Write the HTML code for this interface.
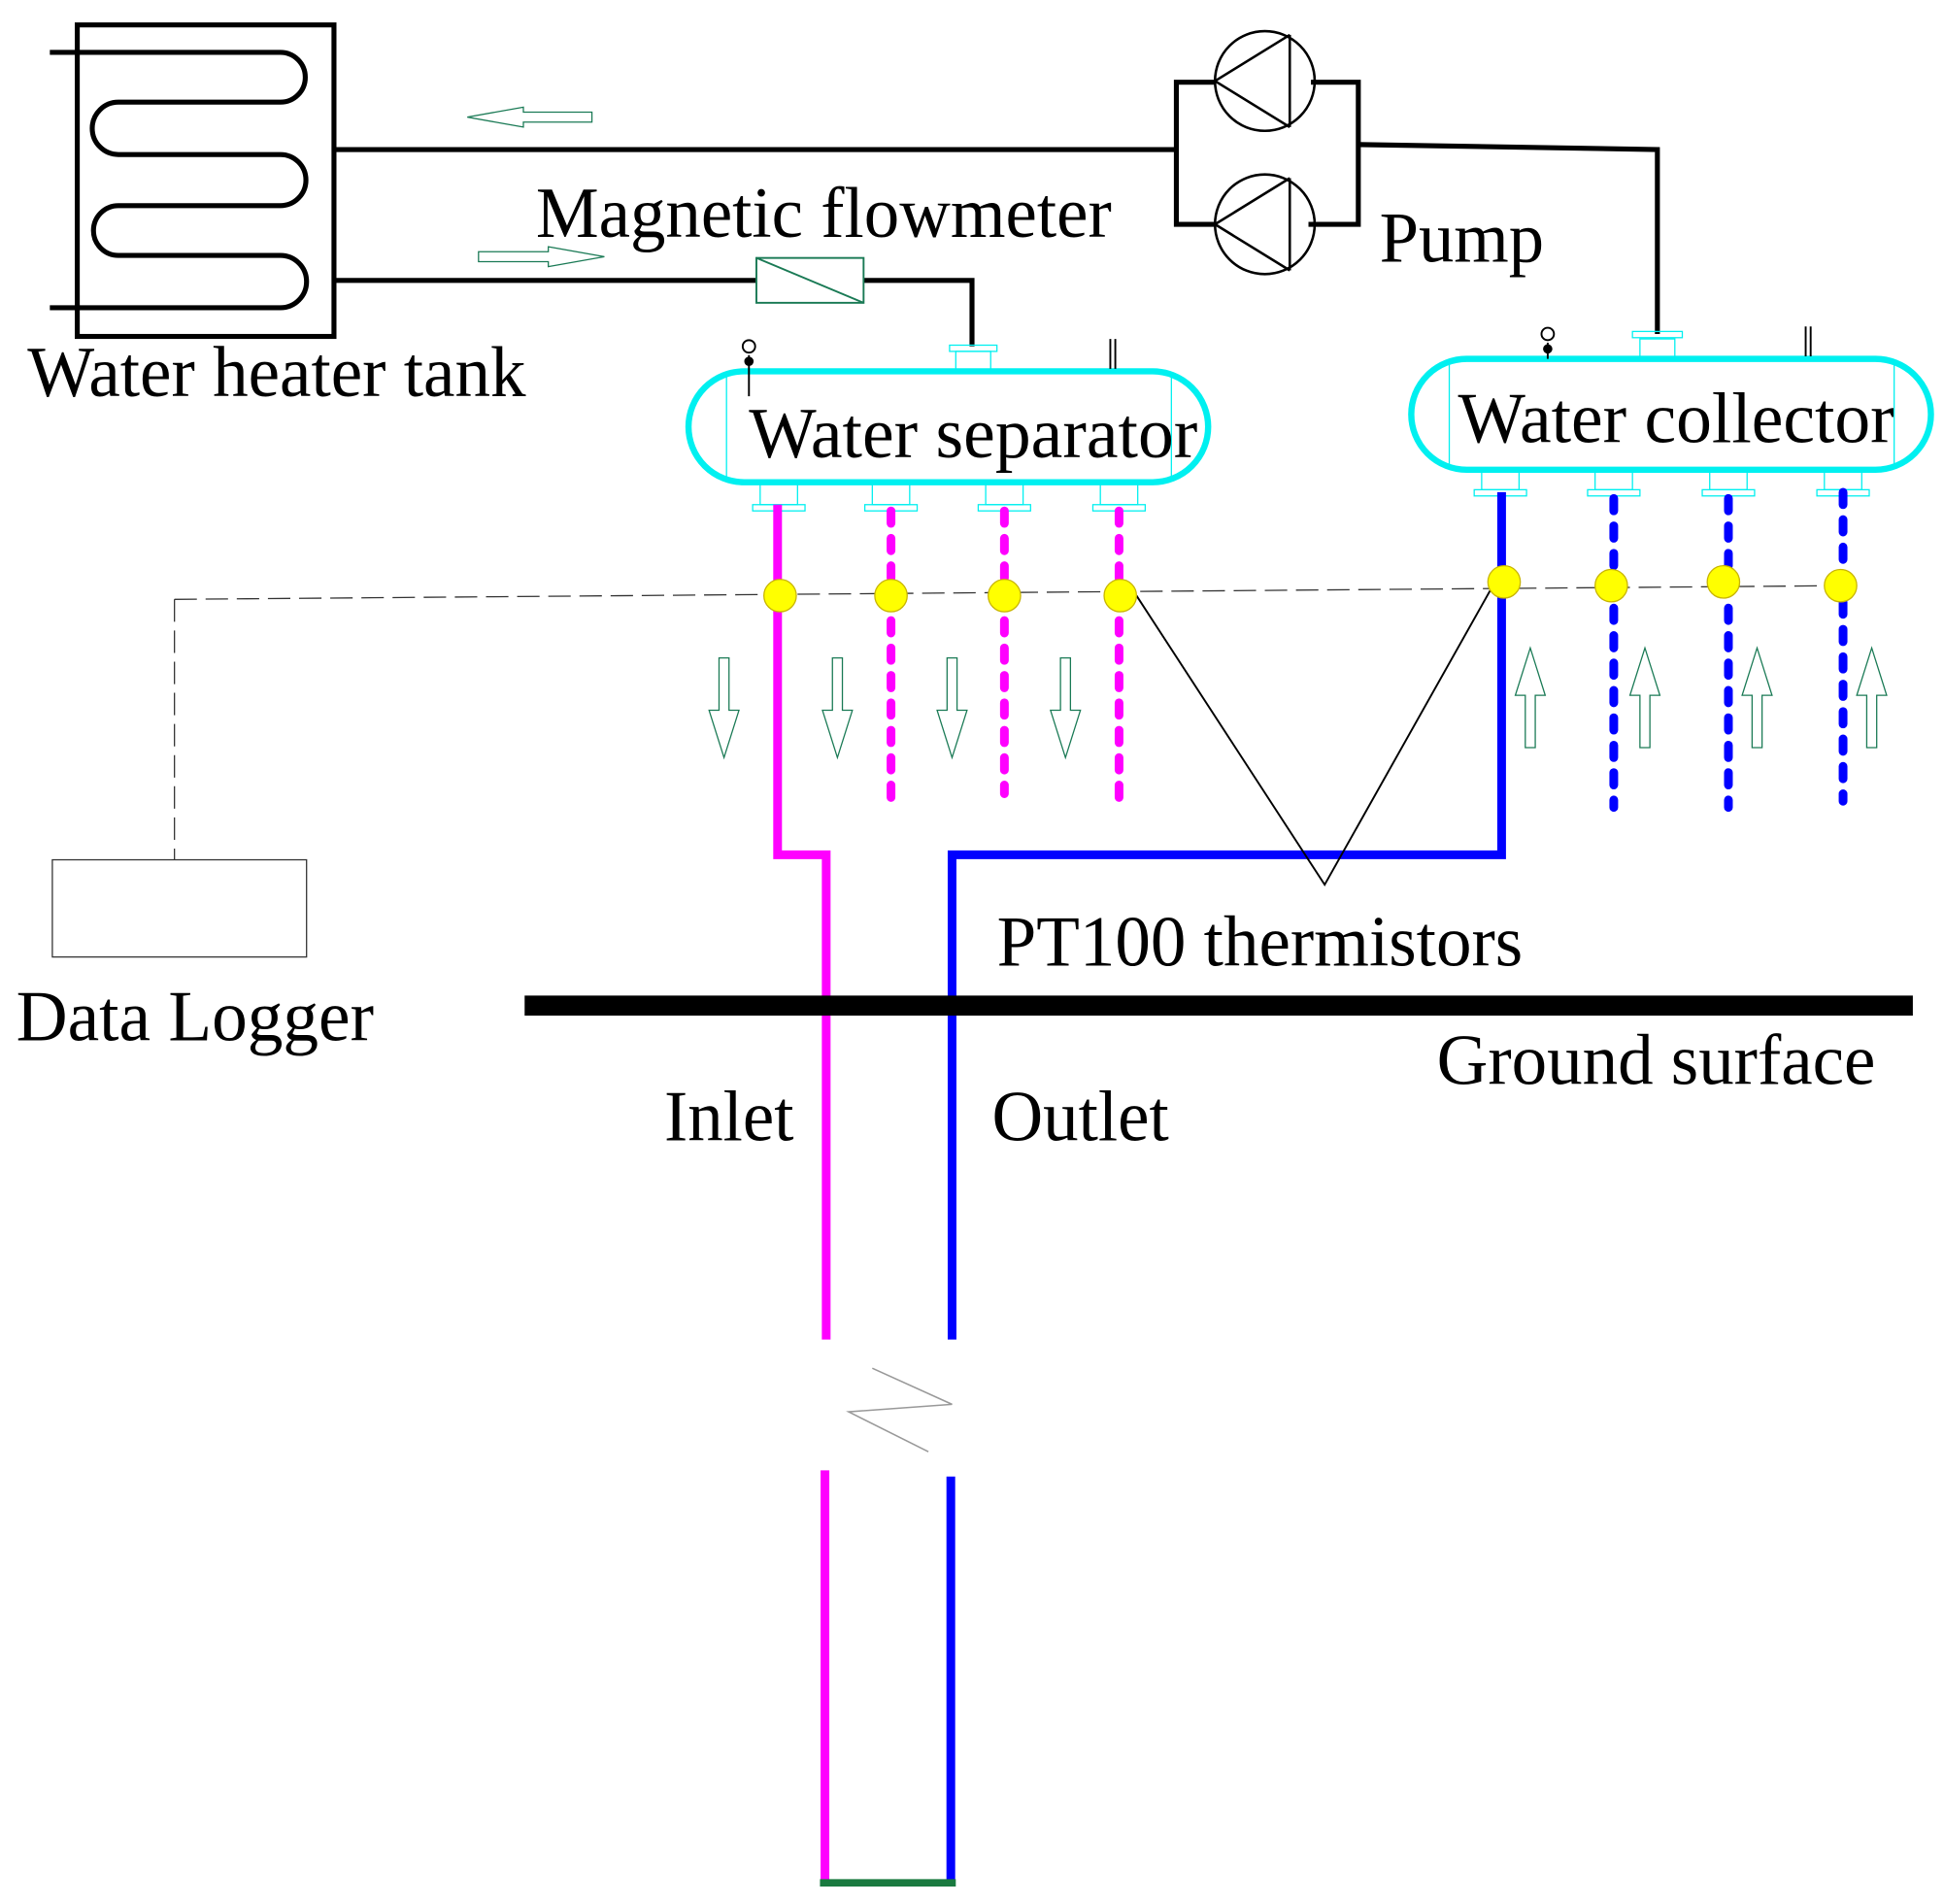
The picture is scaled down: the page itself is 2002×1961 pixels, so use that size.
<!DOCTYPE html>
<html><head><meta charset="utf-8"><style>
html,body{margin:0;padding:0;background:#fff;}
svg{display:block;}
text{font-family:"Liberation Serif","Times New Roman",serif;fill:#000;}
</style></head><body>
<svg width="2002" height="1961" viewBox="0 0 1560 1528" preserveAspectRatio="none" xmlns="http://www.w3.org/2000/svg">
<rect x="62" y="20" width="206" height="250" fill="none" stroke="#000" stroke-width="4"/>
<path d="M40 42 H225 A20 20 0 0 1 225 82 H95 A20 20 0 0 0 95 124 H225 A20.5 20.5 0 0 1 225 165 H95 A20 20 0 0 0 95 205 H225 A21 21 0 0 1 225 247 H40" fill="none" stroke="#000" stroke-width="4"/>
<path d="M268 120 H944" stroke="#000" stroke-width="4" fill="none"/>
<path d="M975 66 H944 V180 H975" stroke="#000" stroke-width="4" fill="none"/>
<path d="M1052 66 H1090 V180 H1050" stroke="#000" stroke-width="4" fill="none"/>
<path d="M1090 116 L1330 120 V268" stroke="#000" stroke-width="4" fill="none"/>
<circle cx="1015" cy="65" r="40" fill="none" stroke="#000" stroke-width="2"/>
<circle cx="1015" cy="180" r="40" fill="none" stroke="#000" stroke-width="2"/>
<path d="M975 65 L1035 28 M975 65 L1035 102 M1035 28 V102" stroke="#000" stroke-width="2" fill="none"/>
<path d="M975 180 L1035 143 M975 180 L1035 217 M1035 143 V217" stroke="#000" stroke-width="2" fill="none"/>
<path d="M270 225 H607 M693 225 H780 V278" stroke="#000" stroke-width="4" fill="none"/>
<rect x="607" y="207" width="86" height="36" fill="none" stroke="#1a7a55" stroke-width="1.5"/>
<path d="M607 207 L693 243" stroke="#1a7a55" stroke-width="1.5"/>
<path d="M475 90 H420 V86 L375 94 L420 102 V98 H475 Z" fill="none" stroke="#1a7a55" stroke-width="1"/>
<path d="M384 202 H440 V198 L485 206 L440 214 V210 H384 Z" fill="none" stroke="#1a7a55" stroke-width="1"/>
<g fill="none" stroke="#1a7a55" stroke-width="1">
<path d="M577 528 H585 V570 H593 L581 608 L569 570 H577 Z"/>
<path d="M668 528 H676 V570 H684 L672 608 L660 570 H668 Z"/>
<path d="M760 528 H768 V570 H776 L764 608 L752 570 H760 Z"/>
<path d="M851 528 H859 V570 H867 L855 608 L843 570 H851 Z"/>
<path d="M1224 600 H1232 V558 H1240 L1228 520 L1216 558 H1224 Z"/>
<path d="M1316 600 H1324 V558 H1332 L1320 520 L1308 558 H1316 Z"/>
<path d="M1406 600 H1414 V558 H1422 L1410 520 L1398 558 H1406 Z"/>
<path d="M1498 600 H1506 V558 H1514 L1502 520 L1490 558 H1498 Z"/>
</g>
<g fill="none" stroke="#00f0f0">
<path d="M597 298 H925 A44 44 0 0 1 925 387 H597 A44 44 0 0 1 597 298 Z" stroke-width="5"/>
<path d="M583 300 V385 M940 300 V385" stroke-width="1"/>
<rect x="767" y="282" width="28" height="16" stroke-width="1"/><rect x="762" y="277" width="38" height="5" stroke-width="1"/>
<path d="M1177 288 H1505 A44.5 44.5 0 0 1 1505 377 H1177 A44.5 44.5 0 0 1 1177 288 Z" stroke-width="5"/>
<path d="M1163 290 V375 M1520 290 V375" stroke-width="1"/>
<rect x="1316" y="272" width="28" height="16" stroke-width="1"/><rect x="1310" y="266" width="40" height="5" stroke-width="1"/>
<g stroke-width="1">
<rect x="610" y="387" width="30" height="18"/><rect x="604" y="405" width="42" height="5"/>
<rect x="700" y="387" width="30" height="18"/><rect x="694" y="405" width="42" height="5"/>
<rect x="791" y="387" width="30" height="18"/><rect x="785" y="405" width="42" height="5"/>
<rect x="883" y="387" width="30" height="18"/><rect x="877" y="405" width="42" height="5"/>
<rect x="1189" y="377" width="30" height="16"/><rect x="1183" y="393" width="42" height="5"/>
<rect x="1280" y="377" width="30" height="16"/><rect x="1274" y="393" width="42" height="5"/>
<rect x="1372" y="377" width="30" height="16"/><rect x="1366" y="393" width="42" height="5"/>
<rect x="1464" y="377" width="30" height="16"/><rect x="1458" y="393" width="42" height="5"/>
</g>
</g>
<g stroke="#000" stroke-width="1.5" fill="none">
<circle cx="601" cy="278" r="5"/><path d="M601 285 V318"/><circle cx="601" cy="290" r="3" fill="#000"/>
<path d="M891 272 V296 M895 272 V296"/>
<circle cx="1242" cy="268" r="5"/><path d="M1242 275 V288"/><circle cx="1242" cy="280" r="3" fill="#000"/>
<path d="M1449 262 V286 M1453 262 V286"/>
</g>
<path d="M624 405 V686 H663 V1075" stroke="#ff00ff" stroke-width="7" fill="none"/>
<g stroke="#ff00ff" stroke-width="7" stroke-linecap="round" stroke-dasharray="10 12" fill="none">
<path d="M715 410 V645"/><path d="M806 410 V637"/><path d="M898 410 V645"/>
</g>
<path d="M1205 395 V686 H764 V1075" stroke="#0000ff" stroke-width="7" fill="none"/>
<g stroke="#0000ff" stroke-width="7" stroke-linecap="round" stroke-dasharray="10 12" fill="none">
<path d="M1295 400 V648"/><path d="M1387 400 V648"/><path d="M1479 395 V643"/>
</g>
<path d="M662 1180 V1510" stroke="#ff00ff" stroke-width="7"/>
<path d="M763 1185 V1510" stroke="#0000ff" stroke-width="7"/>
<path d="M658 1511 H767" stroke="#1a7a40" stroke-width="6"/>
<path d="M700 1098 L764 1127 L681 1133 L745 1165" stroke="#999" stroke-width="1.2" fill="none"/>
<path d="M421 807 H1535" stroke="#000" stroke-width="16"/>
<path d="M140 481 L1480 470 M140 481 V690" stroke="#333" stroke-width="1" stroke-dasharray="18 7" fill="none"/>
<rect x="42" y="690" width="204" height="78" fill="none" stroke="#333" stroke-width="1"/>
<path d="M912 478 L1063 710 L1198 470" stroke="#000" stroke-width="1.5" fill="none"/>
<g fill="#ffff00" stroke="#c8b400" stroke-width="1">
<circle cx="626" cy="478" r="13"/><circle cx="715" cy="478" r="13"/><circle cx="806" cy="478" r="13"/><circle cx="899" cy="478" r="13"/>
<circle cx="1207" cy="467" r="13"/><circle cx="1293" cy="470" r="13"/><circle cx="1383" cy="467" r="13"/><circle cx="1477" cy="470" r="13"/>
</g>
<g font-family="Liberation Serif, Times New Roman, serif" font-size="58">
<text x="22" y="318" textLength="400" lengthAdjust="spacingAndGlyphs">Water heater tank</text>
<text x="430" y="190" textLength="462" lengthAdjust="spacingAndGlyphs">Magnetic flowmeter</text>
<text x="1107" y="210" textLength="132" lengthAdjust="spacingAndGlyphs">Pump</text>
<text x="601" y="367" textLength="360" lengthAdjust="spacingAndGlyphs">Water separator</text>
<text x="1170" y="355" textLength="350" lengthAdjust="spacingAndGlyphs">Water collector</text>
<text x="800" y="775" textLength="422" lengthAdjust="spacingAndGlyphs">PT100 thermistors</text>
<text x="13" y="835" textLength="287" lengthAdjust="spacingAndGlyphs">Data Logger</text>
<text x="1153" y="870" textLength="352" lengthAdjust="spacingAndGlyphs">Ground surface</text>
<text x="533" y="915" textLength="104" lengthAdjust="spacingAndGlyphs">Inlet</text>
<text x="796" y="915" textLength="142" lengthAdjust="spacingAndGlyphs">Outlet</text>
</g>
</svg>
</body></html>
